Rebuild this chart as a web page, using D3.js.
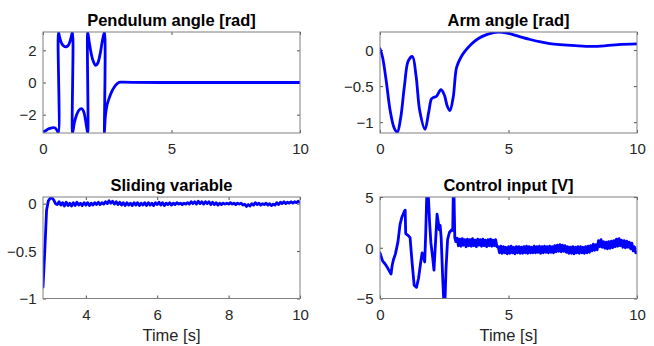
<!DOCTYPE html>
<html>
<head>
<meta charset="utf-8">
<script src="https://cdn.jsdelivr.net/npm/d3@7"></script>
<style>
  html, body { margin: 0; padding: 0; background: #fff; }
  svg { display: block; }
</style>
</head>
<body>
<svg id="chart" width="654" height="346"></svg>
<script>
// ---------------- DATA ----------------
// Pendulum angle (wrapped to [-pi, pi]); repeated t values mark the wrap jumps
const PI = Math.PI;
const pendT = [0, 0.1, 0.2, 0.3, 0.4, 0.48, 0.55, 0.6,
  0.6, 0.65, 0.72, 0.8, 0.9, 0.98, 1.05, 1.1, 1.15,
  1.15, 1.22, 1.3, 1.4, 1.5, 1.58, 1.65, 1.7, 1.74,
  1.74, 1.8, 1.87, 1.95, 2.05, 2.13, 2.22, 2.3, 2.39,
  2.39, 2.41, 2.44, 2.5, 2.58, 2.67, 2.77, 2.87, 2.95, 3.0, 3.1, 3.5, 5, 7, 10];
const pendTheta = [-3.08, -3.0, -2.9, -2.84, -2.81, -2.84, -2.98, -PI,
  PI, 2.8, 2.45, 2.28, 2.22, 2.3, 2.55, 2.85, PI,
  -PI, -2.5, -2.05, -1.72, -1.63, -1.8, -2.3, -2.8, -PI,
  PI, 2.5, 1.85, 1.35, 1.06, 1.2, 1.75, 2.5, PI,
  -PI, -2.5, -1.9, -1.35, -0.95, -0.58, -0.3, -0.1, 0.0, 0.02, 0.02, 0.01, 0.0, 0.0, 0.0];

// Arm angle
const armT = [0, 0.1, 0.25, 0.4, 0.55, 0.67, 0.8, 0.95, 1.1, 1.26, 1.4, 1.55, 1.75, 1.9, 2.0, 2.07, 2.2, 2.37, 2.5, 2.62, 2.72, 2.85, 2.98, 3.15, 3.3, 3.55, 3.83, 4.2, 4.6, 5.0, 5.4, 5.8, 6.2, 6.6, 7.0, 7.6, 8.24, 8.8, 9.27, 10];
const armPhi = [0.02, -0.1, -0.45, -0.85, -1.08, -1.14, -0.95, -0.5, -0.15, -0.09, -0.35, -0.85, -1.1, -0.85, -0.68, -0.66, -0.64, -0.55, -0.62, -0.78, -0.84, -0.65, -0.24, -0.1, -0.02, 0.08, 0.16, 0.22, 0.25, 0.23, 0.19, 0.15, 0.115, 0.09, 0.075, 0.06, 0.05, 0.06, 0.075, 0.085];

// Sliding variable: initial transient, then sampled every slideStep from slideStart
const slideInitT = [2.8, 2.85, 2.9, 2.95, 3.0, 3.05, 3.1, 3.15];
const slideInitS = [-0.88, -0.5, -0.07, 0.03, 0.055, 0.06, 0.04, 0.0];
const slideStart = 3.2, slideStep = 0.05;
const slideS = [
  -0.01, 0.02, -0.015, 0.01, -0.025, 0.015, -0.02, 0.005, -0.025, 0.01,
  -0.02, 0.015, -0.015, 0.005, -0.02, 0.01, -0.015, 0.01, -0.02, 0.005,
  -0.015, 0.01, -0.01, 0.015, -0.01, 0.01, -0.005, 0.02, 0.0, 0.03,
  0.005, 0.025, -0.005, 0.02, -0.01, 0.015, -0.015, 0.01, -0.02, 0.01,
  -0.015, 0.005, -0.02, 0.01, -0.015, 0.01, -0.02, 0.005, -0.015, 0.01,
  -0.02, 0.01, -0.015, 0.005, -0.02, 0.01, -0.01, 0.015, -0.015, 0.01,
  -0.02, 0.005, -0.01, 0.01, -0.015, 0.005, -0.01, 0.01, -0.005, 0.005,
  -0.01, 0.005, -0.005, 0.01, -0.005, 0.02, 0.0, 0.02, -0.005, 0.025,
  0.0, 0.02, -0.005, 0.02, 0.0, 0.02, -0.01, 0.015, -0.01, 0.01,
  -0.015, 0.005, -0.01, 0.005, -0.005, 0.005, -0.005, 0.01, -0.005, 0.005,
  -0.01, 0.005, -0.005, 0.005, -0.015, -0.005, -0.03, -0.01, -0.025, 0.0,
  -0.015, 0.01, -0.01, 0.005, -0.015, 0.0, -0.01, 0.005, -0.015, 0.0,
  -0.02, -0.005, -0.015, 0.01, -0.01, 0.015, 0.0, 0.02, 0.0, 0.015,
  0.005, 0.02, 0.005, 0.02, 0.01, 0.025, 0.015];

// Control input: initial swing-up, then sampled every ctrlStep from ctrlStart
const ctrlInitT = [0, 0.05, 0.1, 0.2, 0.3, 0.43, 0.47, 0.52, 0.6, 0.7, 0.78, 0.85, 0.95, 0.98, 1.0, 1.1, 1.17, 1.25, 1.33, 1.42, 1.5, 1.58, 1.64, 1.7, 1.74, 1.78, 1.82, 1.88, 1.93, 1.98, 2.05, 2.1, 2.16, 2.22, 2.27, 2.3, 2.34, 2.38, 2.44, 2.48, 2.53, 2.57, 2.63, 2.7, 2.8, 2.83, 2.85, 2.88, 2.91, 2.95];
const ctrlInitU = [-0.5, -0.9, -1.3, -1.6, -2.0, -2.6, -1.8, -1.2, -0.6, 0.6, 2.3, 3.0, 3.6, 3.7, 1.4, 1.2, 1.0, -1.5, -3.7, -3.9, -3.0, -1.5, -0.5, -1.0, -1.4, 1.5, 5.2, 5.2, 2.5, 0.5, -1.0, -2.2, 0.5, 3.3, 2.5, 1.8, 2.2, 1.0, -3.0, -5.2, -5.2, -2.0, 0.8, 1.5, 1.8, 1.7, 5.2, 5.2, 1.0, 0.6];
const ctrlStart = 3.0, ctrlStep = 0.05;
const ctrlU = [
  0.95, 0.2, 0.85, 0.15, 0.9, 0.25, 0.8, 0.1, 0.85, 0.2,
  0.8, 0.15, 0.9, 0.2, 0.75, 0.1, 0.85, 0.25, 0.8, 0.15,
  0.85, 0.2, 0.75, 0.1, 0.8, 0.2, 0.85, 0.15, 0.75, 0.2,
  0.8, 0.1, 0.1, -0.5, 0.15, -0.55, 0.1, -0.5, 0.05, -0.6,
  0.1, -0.55, 0.15, -0.5, 0.05, -0.6, 0.1, -0.5, 0.1, -0.55,
  0.05, -0.55, 0.1, -0.5, 0.15, -0.55, 0.1, -0.5, 0.05, -0.5,
  0.15, -0.5, 0.1, -0.45, 0.15, -0.55, 0.1, -0.5, 0.15, -0.45,
  0.1, -0.5, 0.15, -0.45, 0.1, -0.5, 0.2, -0.4, 0.25, -0.35,
  0.3, -0.4, 0.25, -0.35, 0.2, -0.45, 0.1, -0.55, 0.05, -0.55,
  0.1, -0.6, 0.05, -0.5, 0.1, -0.55, 0.1, -0.5, 0.05, -0.55,
  0.1, -0.5, 0.15, -0.45, 0.2, -0.3, 0.35, -0.25, 0.3, -0.2,
  0.7, 0.1, 0.8, 0.05, 0.6, -0.05, 0.55, -0.1, 0.6, -0.05,
  0.65, 0.0, 0.7, 0.1, 0.85, 0.15, 0.9, 0.2, 0.75, 0.05,
  0.7, 0.0, 0.65, 0.05, 0.55, -0.1, 0.45, -0.3, 0.1, -0.5,
  -0.45];

// Titles and ticks
const titles = ["Pendulum angle [rad]", "Arm angle [rad]", "Sliding variable", "Control input [V]"];
const xLabel = "Time [s]";
const ticksX = [[0, 5, 10], [0, 5, 10], [4, 6, 8, 10], [0, 5, 10]];
const ticksY = [[-2, 0, 2], [-1, -0.5, 0], [-1, -0.5, 0], [-5, 0, 5]];

// ---------------- DRAWING ----------------
const svg = d3.select("#chart");
const FONT = "'Liberation Sans', Arial, Helvetica, sans-serif";
const blue = "#0000ff";

const panels = [
  { x0: 43, x1: 300, y0: 32, y1: 133, xd: [0, 10], yd: [-PI, PI],
    pts: pendT.map((t, i) => [t, pendTheta[i]]), curve: d3.curveCatmullRom.alpha(0.5) },
  { x0: 380, x1: 637, y0: 32, y1: 133, xd: [0, 10], yd: [-1.15, 0.25],
    pts: armT.map((t, i) => [t, armPhi[i]]), curve: d3.curveCatmullRom.alpha(0.5) },
  { x0: 43, x1: 300, y0: 197, y1: 298.5, xd: [2.8, 10], yd: [-1, 0.07],
    pts: slideInitT.map((t, i) => [t, slideInitS[i]])
      .concat(slideS.map((s, i) => [slideStart + i * slideStep, s])), curve: d3.curveLinear, xl: true },
  { x0: 380, x1: 637, y0: 197, y1: 298.5, xd: [0, 10], yd: [-5, 5],
    pts: ctrlInitT.map((t, i) => [t, ctrlInitU[i]])
      .concat(ctrlU.map((u, i) => [ctrlStart + i * ctrlStep, u])), curve: d3.curveLinear, xl: true }
];

const defs = svg.append("defs");

panels.forEach((p, k) => {
  const x = d3.scaleLinear().domain(p.xd).range([p.x0, p.x1]);
  const y = d3.scaleLinear().domain(p.yd).range([p.y1, p.y0]);
  const g = svg.append("g");

  defs.append("clipPath").attr("id", "clip" + k)
    .append("rect").attr("x", p.x0).attr("y", p.y0)
    .attr("width", p.x1 - p.x0).attr("height", p.y1 - p.y0);

  // axes with inward ticks
  const tl = 3;
  const axB = d3.axisBottom(x).tickValues(ticksX[k]).tickSizeInner(-tl).tickSizeOuter(0).tickFormat(d3.format("~g"));
  const axT = d3.axisTop(x).tickValues(ticksX[k]).tickSizeInner(-tl).tickSizeOuter(0).tickFormat("");
  const axL = d3.axisLeft(y).tickValues(ticksY[k]).tickSizeInner(-tl).tickSizeOuter(0).tickFormat(d3.format("~g"));
  const axR = d3.axisRight(y).tickValues(ticksY[k]).tickSizeInner(-tl).tickSizeOuter(0).tickFormat("");

  const gb = g.append("g").attr("transform", `translate(0,${p.y1})`).call(axB);
  const gt = g.append("g").attr("transform", `translate(0,${p.y0})`).call(axT);
  const gl = g.append("g").attr("transform", `translate(${p.x0},0)`).call(axL);
  const gr = g.append("g").attr("transform", `translate(${p.x1},0)`).call(axR);
  [gb, gt, gl, gr].forEach(a => {
    a.select(".domain").remove();
    a.selectAll(".tick line").attr("stroke", "#262626").attr("stroke-width", 0.8);
    a.selectAll("text").attr("font-family", FONT).attr("font-size", 15).attr("fill", "#262626");
  });
  gb.selectAll("text").attr("y", 0).attr("dy", 0).attr("transform", "translate(0,21)");
  gl.selectAll("text").attr("x", -6.5).attr("dy", "0.35em");

  // data line
  const line = d3.line().x(d => x(d[0])).y(d => y(d[1])).curve(p.curve);
  g.append("path").datum(p.pts)
    .attr("clip-path", `url(#clip${k})`)
    .attr("d", line)
    .attr("fill", "none").attr("stroke", blue).attr("stroke-width", 2.8)
    .attr("stroke-linejoin", "round").attr("stroke-linecap", "round");

  // box
  g.append("rect").attr("x", p.x0).attr("y", p.y0)
    .attr("width", p.x1 - p.x0).attr("height", p.y1 - p.y0)
    .attr("fill", "none").attr("stroke", "#808080").attr("stroke-width", 1);

  // title
  g.append("text").attr("x", (p.x0 + p.x1) / 2).attr("y", p.y0 - 6.5)
    .attr("text-anchor", "middle").attr("font-family", FONT).attr("font-weight", "bold")
    .attr("font-size", 16.5).attr("fill", "#000").text(titles[k]);

  if (p.xl) {
    g.append("text").attr("x", (p.x0 + p.x1) / 2).attr("y", 340.5)
      .attr("text-anchor", "middle").attr("font-family", FONT)
      .attr("font-size", 16.5).attr("fill", "#262626").text(xLabel);
  }
});
</script>
</body>
</html>
